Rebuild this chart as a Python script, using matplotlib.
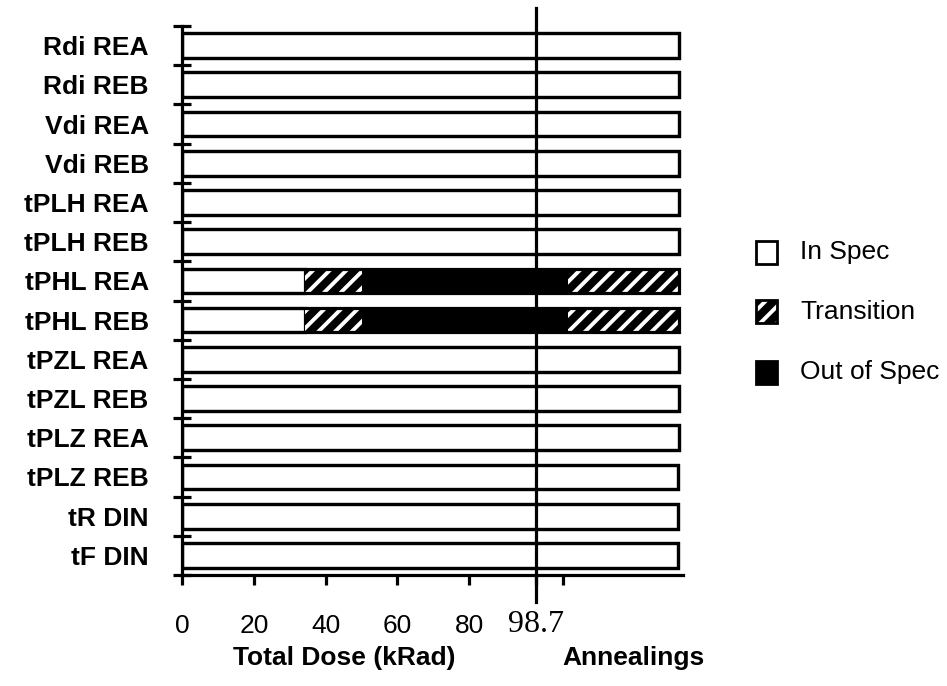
import matplotlib.pyplot as plt
from matplotlib.patches import Rectangle

plt.rcParams['font.family'] = ['Liberation Sans', 'DejaVu Sans']
plt.rcParams['hatch.linewidth'] = 2.8

# Parameters tested (top to bottom)
params = ['Rdi REA', 'Rdi REB', 'Vdi REA', 'Vdi REB', 'tPLH REA', 'tPLH REB',
          'tPHL REA', 'tPHL REB', 'tPZL REA', 'tPZL REB', 'tPLZ REA', 'tPLZ REB',
          'tR DIN', 'tF DIN']

# Segment lengths along the dose / annealing axis (kRad units)
in_spec = [138.5, 138.5, 138.5, 138.5, 138.5, 138.5, 34.3, 34.3,
           138.5, 138.3, 138.3, 138.2, 138.2, 138.0]
transition_1 = [0, 0, 0, 0, 0, 0, 15.8, 15.8, 0, 0, 0, 0, 0, 0]
out_of_spec = [0, 0, 0, 0, 0, 0, 57.4, 57.4, 0, 0, 0, 0, 0, 0]
transition_2 = [0, 0, 0, 0, 0, 0, 31.0, 31.0, 0, 0, 0, 0, 0, 0]

dose_ticks = [0, 20, 40, 60, 80, 98.7, 106]
dose_labels = ['0', '20', '40', '60', '80', '', '']
final_dose = 98.7

W, H = 947, 686
fig = plt.figure(figsize=(W / 100, H / 100), dpi=100)
ax = fig.add_axes([182 / W, 1 - 575 / H, 501 / W, 549 / H])

y = list(range(len(params)))
lw = 2.3

left1 = in_spec
left2 = [a + b for a, b in zip(left1, transition_1)]
left3 = [a + b for a, b in zip(left2, out_of_spec)]
totals = [a + b for a, b in zip(left3, transition_2)]

h = 0.63
ax.barh(y, in_spec, height=h, color='white', edgecolor='black', linewidth=lw, zorder=2)
ax.barh(y, transition_1, left=left1, height=h, color='black', edgecolor='white',
        linewidth=0, hatch='//', zorder=2)
ax.barh(y, out_of_spec, left=left2, height=h, color='black', linewidth=0, zorder=2)
ax.barh(y, transition_2, left=left3, height=h, color='black', edgecolor='white',
        linewidth=0, hatch='//', zorder=2)
ax.barh(y, totals, height=h, fill=False, edgecolor='black', linewidth=lw, zorder=3)

ax.set_xlim(0, 139.5)
ax.set_ylim(len(params) - 0.5, -0.5)

# row boundary ticks and centred labels
ax.set_yticks([i - 0.5 for i in range(len(params) + 1)])
ax.set_yticklabels([])
ax.set_yticks(y, minor=True)
ax.set_yticklabels(params, minor=True, fontsize=19, fontweight='bold')
ax.tick_params(axis='y', which='major', direction='inout', length=13.5, width=lw)
ax.tick_params(axis='y', which='minor', length=0, pad=24)

ax.set_xticks(dose_ticks)
ax.set_xticklabels(dose_labels, fontsize=19)
ax.tick_params(axis='x', direction='out', length=7, width=lw, pad=21)
ax.text(final_dose, (575 - 632) / 549, '98.7', transform=ax.get_xaxis_transform(),
        ha='center', va='baseline', fontsize=23, family='Liberation Serif')

for s in ['top', 'right']:
    ax.spines[s].set_visible(False)
for s in ['left', 'bottom']:
    ax.spines[s].set_linewidth(lw)

ax.axvline(final_dose, ymin=-0.049, ymax=1.033, color='black', lw=lw,
           clip_on=False, zorder=5)

fig.text(344 / W, 1 - 658 / H, 'Total Dose (kRad)', ha='center', va='center',
         fontsize=19, fontweight='bold')
fig.text(633 / W, 1 - 658 / H, 'Annealings', ha='center', va='center',
         fontsize=19, fontweight='bold')

# Legend
legend_items = [('In Spec', 'white', None), ('Transition', 'black', '//'),
                ('Out of Spec', 'black', None)]
for k, (name, fc, hatch) in enumerate(legend_items):
    yc = 252 + 60 * k
    bw, bh = 21, 23
    fig.add_artist(Rectangle((756 / W, 1 - (yc + bh / 2) / H), bw / W, bh / H,
                             facecolor=fc, edgecolor='white' if hatch else 'black',
                             hatch=hatch, linewidth=0 if hatch else 2,
                             transform=fig.transFigure))
    if hatch:
        fig.add_artist(Rectangle((756 / W, 1 - (yc + bh / 2) / H), bw / W, bh / H,
                                 fill=False, edgecolor='black', linewidth=2,
                                 transform=fig.transFigure))
    fig.text(800 / W, 1 - yc / H, name, ha='left', va='center', fontsize=19)

plt.savefig('out.png', dpi=100)
